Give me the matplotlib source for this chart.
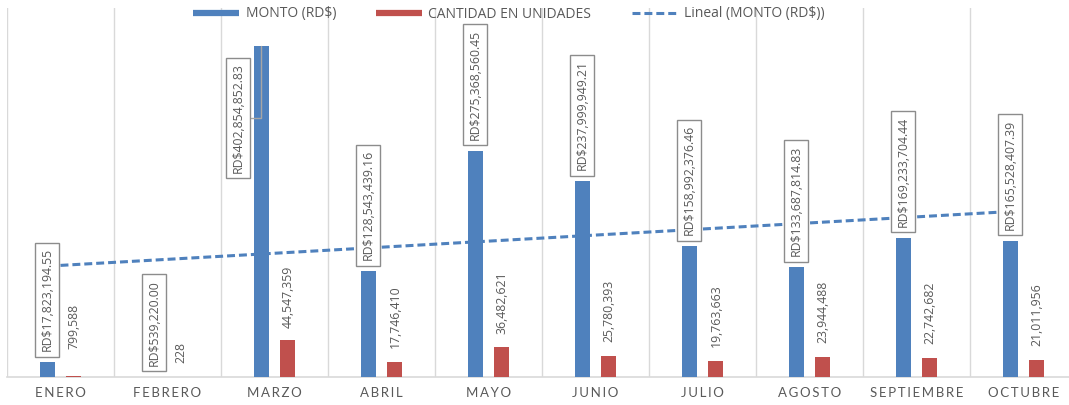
import matplotlib
matplotlib.use("Agg")
import matplotlib.pyplot as plt
from matplotlib.lines import Line2D
import numpy as np

months = ["ENERO", "FEBRERO", "MARZO", "ABRIL", "MAYO", "JUNIO",
          "JULIO", "AGOSTO", "SEPTIEMBRE", "OCTUBRE"]
monto = [17823194.55, 539220.00, 402854852.83, 128543439.16, 275368560.45,
         237999949.21, 158992376.46, 133687814.83, 169233704.44, 165528407.39]
cantidad = [799588, 228, 44547359, 17746410, 36482621,
            25780393, 19763663, 23944488, 22742682, 21011956]

BLUE = "#4F81BD"
RED = "#C0504D"
GRID = "#D9D9D9"
TXT = "#595959"
FONT = ["Open Sans", "DejaVu Sans"]
TICKFONT = ["Lato", "DejaVu Sans"]

plt.rcParams["font.family"] = FONT

W, H = 1069, 405
fig = plt.figure(figsize=(W / 100, H / 100), dpi=100)
left_px, right_px, bottom_px, top_px = 7, 1077, 377, 8
ax = fig.add_axes([left_px / W, (H - bottom_px) / H,
                   (right_px - left_px) / W, (bottom_px - top_px) / H])

x = np.arange(len(months))
off, bw = 0.126, 0.14
ax.bar(x - off, monto, width=bw, color=BLUE, zorder=3)
ax.bar(x + off, cantidad, width=bw, color=RED, zorder=3)

# linear trend of MONTO
coef = np.polyfit(x + 1, monto, 1)
trend = np.polyval(coef, x + 1)
ax.plot(x, trend, color=BLUE, lw=2.2, dashes=(2.6, 1.3), zorder=4)

ymax = monto[2] * (bottom_px - top_px) / (bottom_px - 46)
ax.set_ylim(0, ymax)
ax.set_xlim(-0.5, len(months) - 0.5)

for b in np.arange(-0.5, len(months) + 0.5, 1.0):
    ax.axvline(b, color=GRID, lw=1, zorder=1)

for s in ["top", "right", "left"]:
    ax.spines[s].set_visible(False)
ax.spines["bottom"].set_color(GRID)
ax.spines["bottom"].set_linewidth(1.2)
ax.set_yticks([])
ax.set_xticks(x)
ax.set_xticklabels(["\u2009".join(m) for m in months], color=TXT, fontsize=9.5,
                   family=TICKFONT, va="baseline")
ax.tick_params(axis="x", length=0, pad=20 * 0.72)

FS = 8.8
box = dict(boxstyle="square,pad=0.45", fc="white", ec="#8C8C8C", lw=1)
for i, v in enumerate(monto):
    lab = "RD$" + f"{v:,.2f}"
    if i == 2:
        ax.annotate(lab, xy=(i - off, v), xytext=(-23, -72),
                    textcoords="offset pixels", rotation=90, ha="center",
                    va="center", fontsize=FS, color=TXT, bbox=box, zorder=6,
                    arrowprops=dict(arrowstyle="-", color="#A6A6A6", lw=1,
                                    shrinkA=0, shrinkB=0,
                                    connectionstyle="angle,angleA=0,angleB=90,rad=0"))
    else:
        ax.annotate(lab, xy=(i - off, v), xytext=(0, 11),
                    textcoords="offset pixels", rotation=90, ha="center",
                    va="bottom", fontsize=FS, color=TXT, bbox=box, zorder=6)

red_gap = [27, 14, 12, 14, 13, 14, 14, 14, 14, 14]
for i, v in enumerate(cantidad):
    ax.annotate(f"{v:,}", xy=(i + off, v), xytext=(0, red_gap[i]),
                textcoords="offset pixels", rotation=90, ha="center",
                va="bottom", fontsize=FS, color=TXT, zorder=6)

handles = [Line2D([0], [0], color=BLUE, lw=4.5, solid_capstyle="butt"),
           Line2D([0], [0], color=RED, lw=4.5, solid_capstyle="butt"),
           Line2D([0], [0], color=BLUE, lw=2.2, dashes=(2.6, 1.3))]
labels = ["MONTO (RD$)", "CANTIDAD EN UNIDADES", "Lineal (MONTO (RD$))"]
fig.legend(handles, labels, loc="center", bbox_to_anchor=(0.476, 1 - 14 / H),
           ncol=3, frameon=False, fontsize=10, handlelength=3.3,
           handletextpad=0.45, columnspacing=2.9, labelcolor=TXT)

fig.savefig("out.png", dpi=100)
